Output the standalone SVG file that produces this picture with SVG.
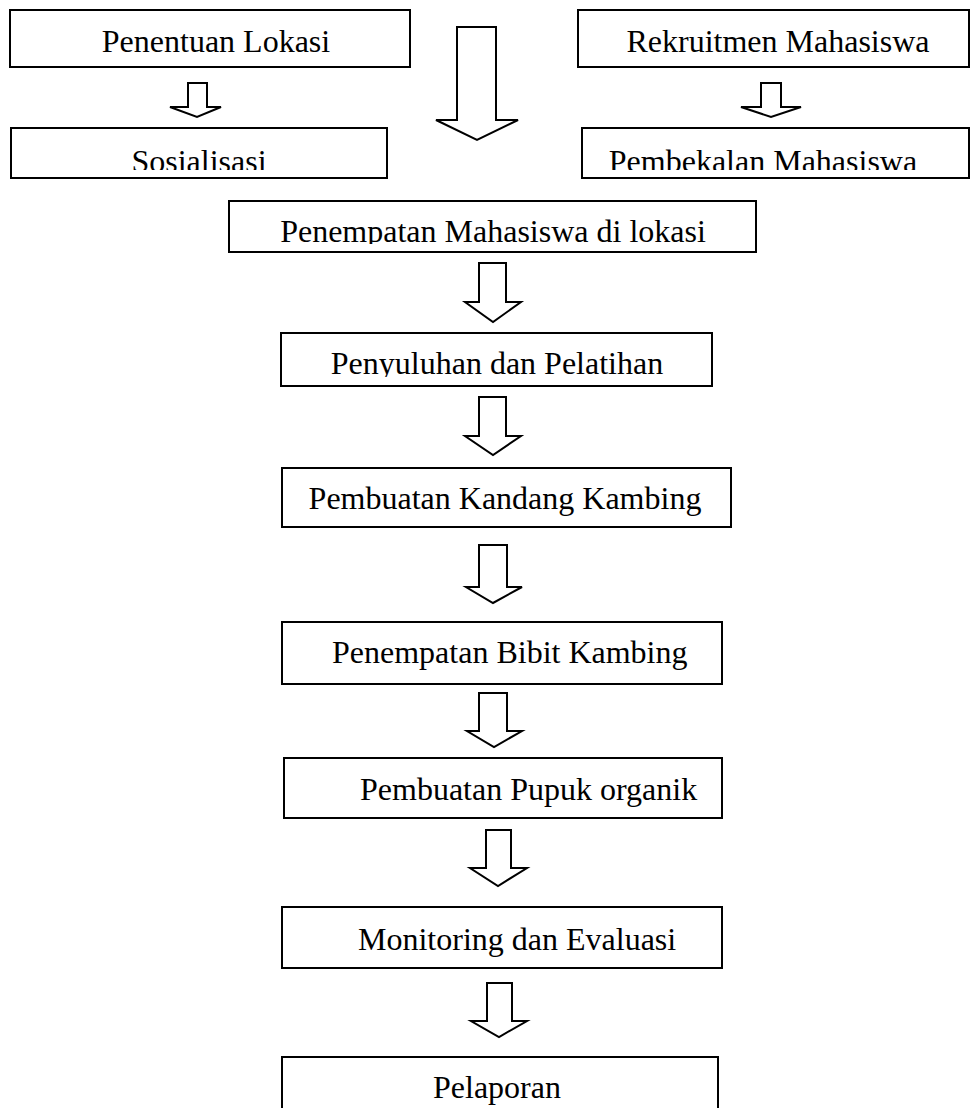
<svg xmlns="http://www.w3.org/2000/svg" width="972" height="1108" viewBox="0 0 972 1108">
<style>
.box{fill:#fff;stroke:#000;stroke-width:2}
.arr{fill:#fff;stroke:#000;stroke-width:2;stroke-linejoin:miter}
text{font-family:"Liberation Serif","Times New Roman",serif;font-size:32px;fill:#000}
.c{text-anchor:middle}
</style>
<defs>
<clipPath id="cS"><rect x="0" y="120" width="972" height="50"/></clipPath>
<clipPath id="cP"><rect x="0" y="195" width="972" height="49"/></clipPath>
<clipPath id="cY"><rect x="0" y="330" width="972" height="47"/></clipPath>
</defs>
<rect width="972" height="1108" fill="#fff"/>
<g id="connectors">
<polygon class="arr" points="457,27 496,27 496,120 518,120 477,140 436,120 457,120"/>
<polygon class="arr" points="188,83 207,83 207,107 221,107 197,117 170,107 188,107"/>
<polygon class="arr" points="761,83 781,83 781,107 801,107 771,117 741,107 761,107"/>
<polygon class="arr" points="479,263 506,263 506,302 521,302 493,322 465,302 479,302"/>
<polygon class="arr" points="479,397 506,397 506,436 521,436 493,455 465,436 479,436"/>
<polygon class="arr" points="479,545 507,545 507,587 522,587 493,603 466,587 479,587"/>
<polygon class="arr" points="479,693 507,693 507,731 522,731 494,747 467,731 479,731"/>
<polygon class="arr" points="486,830 511,830 511,868 527,868 498,886 470,868 486,868"/>
<polygon class="arr" points="487,983 512,983 512,1021 527,1021 499,1037 471,1021 487,1021"/>
</g>
<g id="n1"><rect class="box" x="10" y="10" width="400" height="57"/><text class="c" x="216" y="52">Penentuan Lokasi</text></g>
<g id="n2"><rect class="box" x="578" y="10" width="391" height="57"/><text class="c" x="778" y="52">Rekruitmen Mahasiswa</text></g>
<g id="n3"><rect class="box" x="11" y="128" width="376" height="50"/><text class="c" x="199" y="172" clip-path="url(#cS)">Sosialisasi</text></g>
<g id="n4"><rect class="box" x="582" y="128" width="387" height="50"/><text class="c" x="763" y="172" clip-path="url(#cS)">Pembekalan Mahasiswa</text></g>
<g id="n5"><rect class="box" x="229" y="201" width="527" height="51"/><text class="c" x="493" y="242" clip-path="url(#cP)">Penempatan Mahasiswa di lokasi</text></g>
<g id="n6"><rect class="box" x="281" y="333" width="431" height="53"/><text class="c" x="497" y="374" clip-path="url(#cY)">Penyuluhan dan Pelatihan</text></g>
<g id="n7"><rect class="box" x="282" y="468" width="449" height="59"/><text class="c" x="505" y="509">Pembuatan Kandang Kambing</text></g>
<g id="n8"><rect class="box" x="282" y="622" width="440" height="62"/><text x="332" y="663">Penempatan Bibit Kambing</text></g>
<g id="n9"><rect class="box" x="284" y="758" width="438" height="60"/><text x="360" y="800">Pembuatan Pupuk organik</text></g>
<g id="n10"><rect class="box" x="282" y="907" width="440" height="61"/><text x="358" y="950">Monitoring dan Evaluasi</text></g>
<g id="n11"><rect class="box" x="282" y="1057" width="436" height="60"/><text class="c" x="497" y="1098">Pelaporan</text></g>
</svg>
